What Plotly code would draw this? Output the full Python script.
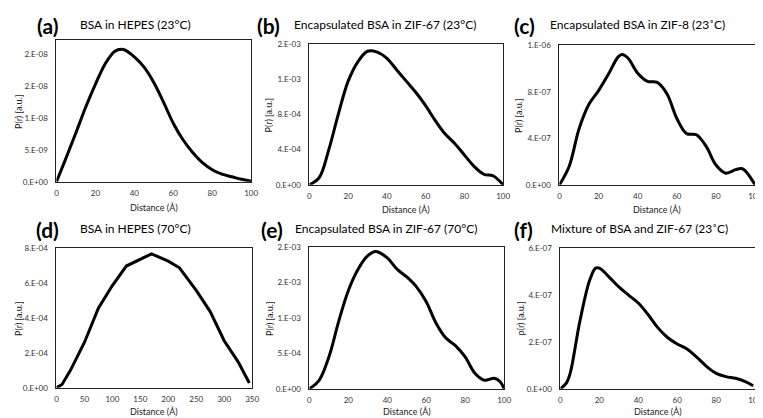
import plotly.graph_objects as go

W, H = 763, 418

# ---- data ----
a_x = [0, 5, 10, 15, 20, 25, 30, 33.5, 35, 40, 45, 50, 55, 60, 65, 70, 75, 80, 85, 90, 95, 100]
a_y = [0, 0.38e-8, 0.77e-8, 1.17e-8, 1.53e-8, 1.85e-8, 2.05e-8, 2.08e-8, 2.07e-8, 1.96e-8, 1.80e-8,
       1.56e-8, 1.25e-8, 0.92e-8, 0.66e-8, 0.46e-8, 0.30e-8, 0.19e-8, 0.12e-8, 0.08e-8, 0.04e-8, 0.01e-8]

b_x = [0, 5, 10, 15, 20, 25, 30, 35, 40, 45, 50, 55, 60, 65, 70, 75, 80, 85, 90, 95, 100]
b_y = [0, 0.08e-3, 0.40e-3, 0.81e-3, 1.18e-3, 1.40e-3, 1.52e-3, 1.51e-3, 1.44e-3, 1.31e-3, 1.18e-3,
       1.05e-3, 0.90e-3, 0.73e-3, 0.58e-3, 0.47e-3, 0.34e-3, 0.21e-3, 0.12e-3, 0.10e-3, 0]

c_x = [0, 5, 10, 15, 20, 25, 30, 32, 35, 40, 45, 50, 55, 60, 65, 70, 75, 80, 85, 90, 93, 95, 100]
c_y = [0, 0.16e-6, 0.48e-6, 0.69e-6, 0.81e-6, 0.95e-6, 1.10e-6, 1.12e-6, 1.09e-6, 0.96e-6, 0.89e-6,
       0.88e-6, 0.78e-6, 0.57e-6, 0.44e-6, 0.43e-6, 0.33e-6, 0.17e-6, 0.10e-6, 0.13e-6, 0.14e-6, 0.12e-6, 0]

d_x = [0, 10, 25, 50, 75, 100, 125, 150, 170, 200, 220, 250, 275, 300, 325, 345]
d_y = [0, 0.19e-4, 1.0e-4, 2.6e-4, 4.56e-4, 5.86e-4, 6.98e-4, 7.35e-4, 7.68e-4, 7.26e-4, 6.88e-4,
       5.58e-4, 4.37e-4, 2.70e-4, 1.49e-4, 0.28e-4]

e_x = [0, 5, 10, 15, 20, 25, 30, 34, 40, 45, 50, 55, 60, 65, 70, 75, 80, 85, 90, 95, 98, 100]
e_y = [0, 0.12e-3, 0.45e-3, 0.95e-3, 1.39e-3, 1.69e-3, 1.88e-3, 1.94e-3, 1.85e-3, 1.69e-3, 1.58e-3,
       1.44e-3, 1.23e-3, 0.93e-3, 0.72e-3, 0.61e-3, 0.45e-3, 0.22e-3, 0.12e-3, 0.15e-3, 0.10e-3, 0]

f_x = [0, 3, 5, 10, 15, 18, 20, 25, 30, 35, 40, 45, 50, 55, 60, 65, 70, 75, 80, 85, 90, 95, 99]
f_y = [0, 0.24e-7, 0.66e-7, 2.89e-7, 4.63e-7, 5.15e-7, 5.15e-7, 4.77e-7, 4.35e-7, 4.00e-7, 3.66e-7,
       3.17e-7, 2.61e-7, 2.19e-7, 1.91e-7, 1.70e-7, 1.35e-7, 0.96e-7, 0.66e-7, 0.52e-7, 0.45e-7, 0.31e-7, 0.13e-7]

x_ticks_100 = [0, 20, 40, 60, 80, 100]
x_ticks_350 = [0, 50, 100, 150, 200, 250, 300, 350]

a_yticks = [0, 5e-9, 1e-8, 1.5e-8, 2e-8]
a_ylabels = ["0.E+00", "5.E-09", "1.E-08", "2.E-08", "2.E-08"]
b_yticks = [0, 4e-4, 8e-4, 1.2e-3, 1.6e-3]
b_ylabels = ["0.E+00", "4.E-04", "8.E-04", "1.E-03", "2.E-03"]
c_yticks = [0, 4e-7, 8e-7, 1.2e-6]
c_ylabels = ["0.E+00", "4.E-07", "8.E-07", "1.E-06"]
d_yticks = [0, 2e-4, 4e-4, 6e-4, 8e-4]
d_ylabels = ["0.E+00", "2.E-04", "4.E-04", "6.E-04", "8.E-04"]
e_yticks = [0, 5e-4, 1e-3, 1.5e-3, 2e-3]
e_ylabels = ["0.E+00", "5.E-04", "1.E-03", "2.E-03", "2.E-03"]
f_yticks = [0, 2e-7, 4e-7, 6e-7]
f_ylabels = ["0.E+00", "2.E-07", "4.E-07", "6.E-07"]

panel_letters = ["(a)", "(b)", "(c)", "(d)", "(e)", "(f)"]
panel_titles = ["BSA in HEPES (23°C)", "Encapsulated BSA in ZIF-67 (23°C)", "Encapsulated BSA in ZIF-8 (23˚C)",
                "BSA in HEPES (70°C)", "Encapsulated BSA in ZIF-67 (70°C)", "Mixture of BSA and ZIF-67 (23˚C)"]
y_titles = ["P(r) [a.u.]", "P(r) [a.u.]", "P(r) [a.u.]", "P(r) [a.u.]", "P(r) [a.u.]", "p(r) [a.u.]"]
x_title = "Distance (Å)"

# ---- layout (pixel boxes) ----
boxes = [(47, 28, 244, 173), (303, 32, 499, 176), (556, 33, 754, 176),
         (47, 241, 245, 384), (303, 240, 500, 385), (557, 241, 754, 385)]
xs = [a_x, b_x, c_x, d_x, e_x, f_x]
ys = [a_y, b_y, c_y, d_y, e_y, f_y]
yt = [a_yticks, b_yticks, c_yticks, d_yticks, e_yticks, f_yticks]
yl = [a_ylabels, b_ylabels, c_ylabels, d_ylabels, e_ylabels, f_ylabels]
yr = [[0, 2.22e-8], [0, 1.6e-3], [0, 1.2e-6], [0, 8e-4], [0, 2e-3], [0, 6e-7]]
xr = [[0, 100], [0, 100], [0, 100], [0, 350], [0, 100], [0, 100]]
xt = [x_ticks_100, x_ticks_100, x_ticks_100, x_ticks_350, x_ticks_100, x_ticks_100]
shapes_line = ["spline", "spline", "spline", "linear", "spline", "spline"]

letter_pos = [(38, 13), (262, 13), (521, 13), (38, 222), (265, 222), (520, 222)]
title_pos = [(69, 12), (285, 12), (544, 12), (69, 221), (286, 221), (545, 221)]
ytitle_x = [8, 262, 514, 8, 262, 517]
xtitle_y = [199, 201, 201, 408, 408, 408]

fig = go.Figure()
FONT = "Lato"
annotations = []
for i in range(6):
    x0, y0, x1, y1 = boxes[i]
    sfx = "" if i == 0 else str(i + 1)
    fig.add_trace(go.Scatter(x=xs[i], y=ys[i], mode="lines",
                             line=dict(color="black", width=3, shape=shapes_line[i], smoothing=1.0),
                             xaxis="x" + sfx, yaxis="y" + sfx, showlegend=False, hoverinfo="skip"))
    common = dict(showgrid=False, zeroline=False, showline=True, linecolor="#222", linewidth=1,
                  mirror=True, ticks="outside", tickcolor="rgba(0,0,0,0)",
                  tickfont=dict(family=FONT, size=8, color="#333"))
    fig.layout["xaxis" + sfx] = dict(domain=[x0 / W, x1 / W], range=xr[i], tickvals=xt[i],
                                     anchor="y" + sfx, ticklen=4, **common)
    fig.layout["yaxis" + sfx] = dict(domain=[1 - y1 / H, 1 - y0 / H], range=yr[i], tickvals=yt[i],
                                     ticktext=yl[i], anchor="x" + sfx, ticklen=6, **common)
    lx, ly = letter_pos[i]
    annotations.append(dict(text="<b>" + panel_letters[i] + "</b>", x=lx / W, y=1 - ly / H,
                            xref="paper", yref="paper", showarrow=False, xanchor="center", yanchor="middle",
                            font=dict(family=FONT, size=21, color="black")))
    tx, ty = title_pos[i]
    annotations.append(dict(text=panel_titles[i], x=tx / W, y=1 - ty / H, xref="paper", yref="paper",
                            showarrow=False, xanchor="left", yanchor="middle",
                            font=dict(family=FONT, size=12, color="black")))
    annotations.append(dict(text=y_titles[i], x=ytitle_x[i] / W, y=1 - ((y0 + y1) / 2) / H,
                            xref="paper", yref="paper", showarrow=False, textangle=-90,
                            xanchor="center", yanchor="middle",
                            font=dict(family=FONT, size=9, color="#222")))
    annotations.append(dict(text=x_title, x=((x0 + x1) / 2) / W, y=1 - xtitle_y[i] / H,
                            xref="paper", yref="paper", showarrow=False,
                            xanchor="center", yanchor="middle",
                            font=dict(family=FONT, size=9, color="#222")))

fig.update_layout(width=W, height=H, margin=dict(l=0, r=0, t=0, b=0),
                  paper_bgcolor="white", plot_bgcolor="white", annotations=annotations)
fig.write_html("out.html")
